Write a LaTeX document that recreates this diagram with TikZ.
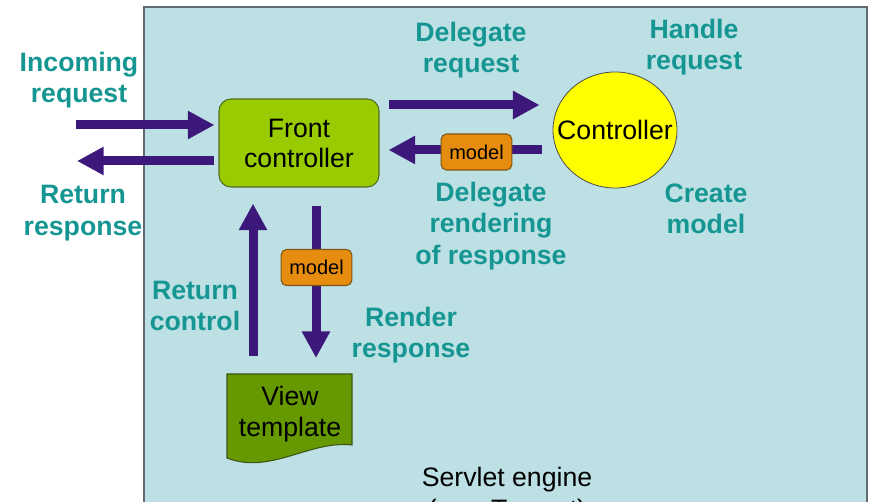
\documentclass[tikz,border=0pt]{standalone}
\usepackage{fontspec}
\setmainfont{Liberation Sans}
\usepackage{xcolor}
\usepackage{tikz}
\usetikzlibrary{shapes.geometric, arrows.meta, positioning}

\definecolor{panelblue}{RGB}{188,224,228}
\definecolor{paneledge}{RGB}{96,106,112}
\definecolor{frontgreen}{RGB}{153,204,0}
\definecolor{frontedge}{RGB}{80,110,30}
\definecolor{viewgreen}{RGB}{102,153,0}
\definecolor{viewedge}{RGB}{60,85,20}
\definecolor{modelorange}{RGB}{230,140,15}
\definecolor{modeledge}{RGB}{130,85,20}
\definecolor{ctrlyellow}{RGB}{255,255,0}
\definecolor{flowpurple}{RGB}{59,24,121}
\definecolor{noteteal}{RGB}{22,150,146}

\begin{document}
\begin{tikzpicture}[x=0.75pt, y=-0.75pt]
\tikzstyle{panel} = [fill=panelblue, draw=paneledge, line width=1.5pt]
\tikzstyle{frontbox} = [rectangle, rounded corners=9pt, minimum width=120pt, minimum height=66pt, align=center, fill=frontgreen, draw=frontedge, line width=0.8pt, font=\fontsize{20}{22.5}\selectfont]
\tikzstyle{ctrlbox} = [ellipse, inner sep=0pt, minimum width=93pt, minimum height=87pt, fill=ctrlyellow, draw=black!70, line width=0.6pt, font=\fontsize{20}{22.5}\selectfont]
\tikzstyle{viewbox} = [rectangle, inner sep=0pt, minimum width=93.75pt, minimum height=60pt, align=center, font=\fontsize{20}{23}\selectfont]
\tikzstyle{modelbox} = [rectangle, rounded corners=4pt, minimum width=53pt, minimum height=27pt, inner sep=0pt, fill=modelorange, draw=modeledge, line width=0.8pt, font=\fontsize{15}{18}\selectfont]
\tikzstyle{note} = [align=center, text=noteteal, font=\bfseries\fontsize{20}{23.5}\selectfont]
\tikzstyle{enginetext} = [align=center, font=\fontsize{20}{24}\selectfont]
\tikzstyle{arrow} = [line width=6.75pt, draw=flowpurple, -{Triangle[length=20pt, width=20pt]}]

\useasboundingbox (0,0) rectangle (890,502);
\clip (0,0) rectangle (890,502);
\draw [panel] (144,7) rectangle (867,530);

\node (front) [frontbox] at (299,143) {Front\\controller};
\node (ctrl) [ctrlbox] at (615,130) {\makebox[0pt]{Controller}};
\filldraw [fill=viewgreen, draw=viewedge, line width=0.8pt] (227,374) -- (352,374) -- (352,445) .. controls (310,440) and (270,475) .. (227,458) -- cycle;
\node (view) [viewbox, anchor=north] at (290,374) {View\\template};

\coordinate (inreq) at (76,125);
\coordinate (outresp) at (77,161);

\draw [arrow] (inreq) -- ([shift={(-4,-18)}]front.west);
\draw [arrow] ([shift={(-4,18)}]front.west) -- (outresp);
\draw [arrow] ([shift={(9,-38)}]front.east) -- ([shift={(-13,-38)}]front.east -| ctrl.west);
\draw [arrow] ([shift={(-11,7)}]front.east -| ctrl.west) -- ([shift={(9,7)}]front.east);
\draw [arrow] ([shift={(-37,-18)}]view.north) -- ([shift={(-46,16)}]front.south);
\draw [arrow] ([shift={(17,18)}]front.south) -- ([shift={(26,-16)}]view.north);

\node (ctrlmodel) [modelbox] at (476.5,152) {model};
\node (viewmodel) [modelbox] at (316.5,267.5) {model};

\node (increq) [note] at (79,80) {Incoming\\request};
\node (retresp) [note] at (83,213) {Return\\response};
\node (delreq) [note] at (471,50) {Delegate\\request};
\node (handle) [note] at (694,47) {Handle\\request};
\node (delrender) [note] at (491,226) {Delegate\\rendering\\of response};
\node (create) [note] at (706,209) {Create\\model};
\node (retctrl) [note] at (195,306) {Return\\control};
\node (render) [note] at (411,335) {Render\\response};
\node (engine) [enginetext] at (507,496) {Servlet engine\\(e.g. Tomcat)};

\end{tikzpicture}
\end{document}
